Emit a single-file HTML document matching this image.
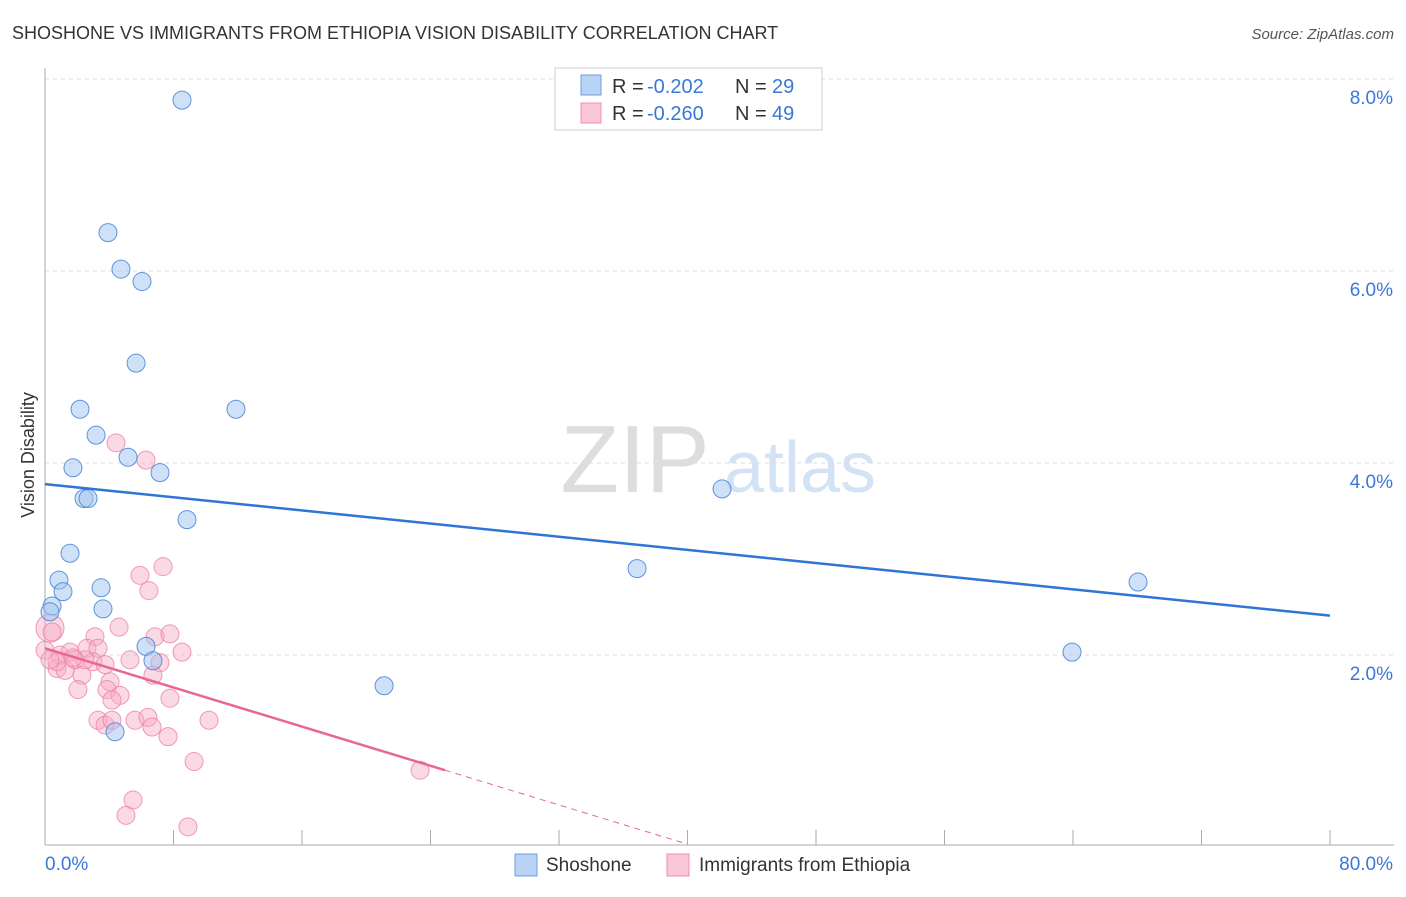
<!DOCTYPE html>
<html><head><meta charset="utf-8"><style>
body{margin:0;background:#fff;font-family:"Liberation Sans",sans-serif;}
svg text{font-family:"Liberation Sans",sans-serif;}
</style></head><body>
<svg id="chart" width="1406" height="892" xmlns="http://www.w3.org/2000/svg">
<text x="12" y="39" font-size="18" fill="#333">SHOSHONE VS IMMIGRANTS FROM ETHIOPIA VISION DISABILITY CORRELATION CHART</text>
<text x="1394" y="39" font-size="15" fill="#555" font-style="italic" text-anchor="end">Source: ZipAtlas.com</text>
<text x="34" y="455" font-size="18" fill="#333" text-anchor="middle" transform="rotate(-90 34 455)">Vision Disability</text>
<g>
<text x="635" y="492" font-size="96" fill="#ddd" font-family="Liberation Serif" text-anchor="middle">ZIP</text>
<text x="800" y="492" font-size="72" fill="#d3e3f5" text-anchor="middle">atlas</text>
</g>
<g id="grid"></g><g id="axes"></g><g id="marks"></g>
<g>
<rect x="555" y="68" width="267" height="62" fill="#fff" stroke="#ccc"/>
<rect x="581" y="75" width="20" height="20" fill="#b8d3f3" stroke="#6f9fdc"/>
<text x="612" y="93" font-size="20" fill="#333">R = </text><text x="647" y="93" font-size="20" fill="#3a78d8">-0.202</text>
<text x="735" y="93" font-size="20" fill="#333">N = </text><text x="772" y="93" font-size="20" fill="#3a78d8">29</text>
<rect x="581" y="103" width="20" height="20" fill="#f9c7d6" stroke="#ee8fae"/>
<text x="612" y="120" font-size="20" fill="#333">R = </text><text x="647" y="120" font-size="20" fill="#3a78d8">-0.260</text>
<text x="735" y="120" font-size="20" fill="#333">N = </text><text x="772" y="120" font-size="20" fill="#3a78d8">49</text>
</g>
<g>
<rect x="515" y="854" width="22" height="22" fill="#b8d3f3" stroke="#6f9fdc"/>
<text x="546" y="871" font-size="19" fill="#333">Shoshone</text>
<rect x="667" y="854" width="22" height="22" fill="#f9c7d6" stroke="#ee8fae"/>
<text x="699" y="871" font-size="19" fill="#333">Immigrants from Ethiopia</text>
</g>
</svg>
<script>
const xTicks=[0,8,16,24,32,40,48,56,64,72,80];
const yTicks=[2,4,6,8];
const yTickLabels=["2.0%","4.0%","6.0%","8.0%"];
const blueX=[8.53,3.92,4.73,6.04,5.67,2.18,11.89,3.18,1.74,5.17,7.16,2.43,2.68,8.84,42.15,1.56,0.87,1.12,3.49,0.44,0.31,3.61,36.86,68.05,6.29,6.72,63.94,21.11,4.36];
const blueY=[7.78,6.40,6.02,5.89,5.04,4.56,4.56,4.29,3.95,4.06,3.90,3.63,3.63,3.41,3.73,3.06,2.78,2.66,2.70,2.51,2.45,2.48,2.90,2.76,2.09,1.94,2.03,1.68,1.20];
const pinkX=[4.42,6.29,5.91,7.35,6.47,0.31,0.44,4.61,3.11,6.85,7.78,8.53,2.61,0.93,1.56,1.87,3.30,5.29,7.16,0.75,1.25,2.30,2.99,4.05,3.86,4.67,4.17,2.05,6.72,7.78,3.30,3.74,5.60,6.41,6.66,4.17,7.66,10.21,9.28,23.35,5.48,5.04,8.90,0.75,2.49,0.0,1.74,3.74,0.31];
const pinkY=[4.21,4.03,2.83,2.92,2.67,2.28,2.24,2.29,2.19,2.19,2.22,2.03,2.07,2.00,2.03,1.95,2.07,1.95,1.92,1.86,1.84,1.79,1.93,1.72,1.64,1.58,1.53,1.64,1.79,1.55,1.32,1.27,1.32,1.35,1.25,1.32,1.15,1.32,0.89,0.80,0.49,0.33,0.21,1.93,1.95,2.05,1.97,1.90,1.95];
const blueLine=[3.78,2.41]; // y at x=0 and x=80
const pinkLine=[2.07,0.80,24.9,40]; // y0, y at solid end, solid end x, dashed end x
const sx=v=>45+v/80*1285, sy=v=>847-v*96;
const NS="http://www.w3.org/2000/svg";
function mk(tag,attrs,parent){const e=document.createElementNS(NS,tag);for(const k in attrs)e.setAttribute(k,attrs[k]);document.getElementById(parent).appendChild(e);return e;}
yTicks.forEach((t,i)=>{
 const g=mk('line',{x1:45,x2:1394,y1:sy(t),y2:sy(t),stroke:'#ddd','stroke-dasharray':'4,4'},'grid');
 
 
 const l=mk('text',{x:1393,y:sy(t)+25,'font-size':19,fill:'#3a78d8','text-anchor':'end'},'axes');
 l.textContent=yTickLabels[i];
 
 
});
const ax=mk('line',{x1:45,x2:45,y1:68,y2:845,stroke:'#aaa'},'axes');


const bx=mk('line',{x1:45,x2:1394,y1:845,y2:845,stroke:'#aaa'},'axes');


xTicks.forEach(t=>{
 const k=mk('line',{x1:sx(t),x2:sx(t),y1:830,y2:845,stroke:'#aaa'},'axes');
 
 
});
const x0=mk('text',{x:45,y:870,'font-size':19,fill:'#3a78d8'},'axes');x0.textContent="0.0%";


const x1=mk('text',{x:1393,y:870,'font-size':19,fill:'#3a78d8','text-anchor':'end'},'axes');x1.textContent="80.0%";


pinkX.forEach((v,i)=>{
 const c=mk('circle',{cx:sx(v),cy:sy(pinkY[i]),r:i===5?14:9,fill:'rgba(246,170,195,0.45)',stroke:'rgba(236,130,165,0.8)','stroke-width':1},'marks');
 
 
});
blueX.forEach((v,i)=>{
 const c=mk('circle',{cx:sx(v),cy:sy(blueY[i]),r:9,fill:'rgba(160,196,238,0.5)',stroke:'rgba(70,130,215,0.85)','stroke-width':1},'marks');
 
 
});
const bl=mk('line',{x1:sx(0),y1:sy(blueLine[0]),x2:sx(80),y2:sy(blueLine[1]),stroke:'#2f74d6','stroke-width':2.5},'marks');


const pl=mk('line',{x1:sx(0),y1:sy(pinkLine[0]),x2:sx(pinkLine[2]),y2:sy(pinkLine[1]),stroke:'#e8688f','stroke-width':2.5},'marks');


const slope=(pinkLine[1]-pinkLine[0])/pinkLine[2];
const pd=mk('line',{x1:sx(pinkLine[2]),y1:sy(pinkLine[1]),x2:sx(pinkLine[3]),y2:sy(pinkLine[0]+slope*pinkLine[3]),stroke:'#e8688f','stroke-width':1,'stroke-dasharray':'6,5'},'marks');


</script>
</body></html>
